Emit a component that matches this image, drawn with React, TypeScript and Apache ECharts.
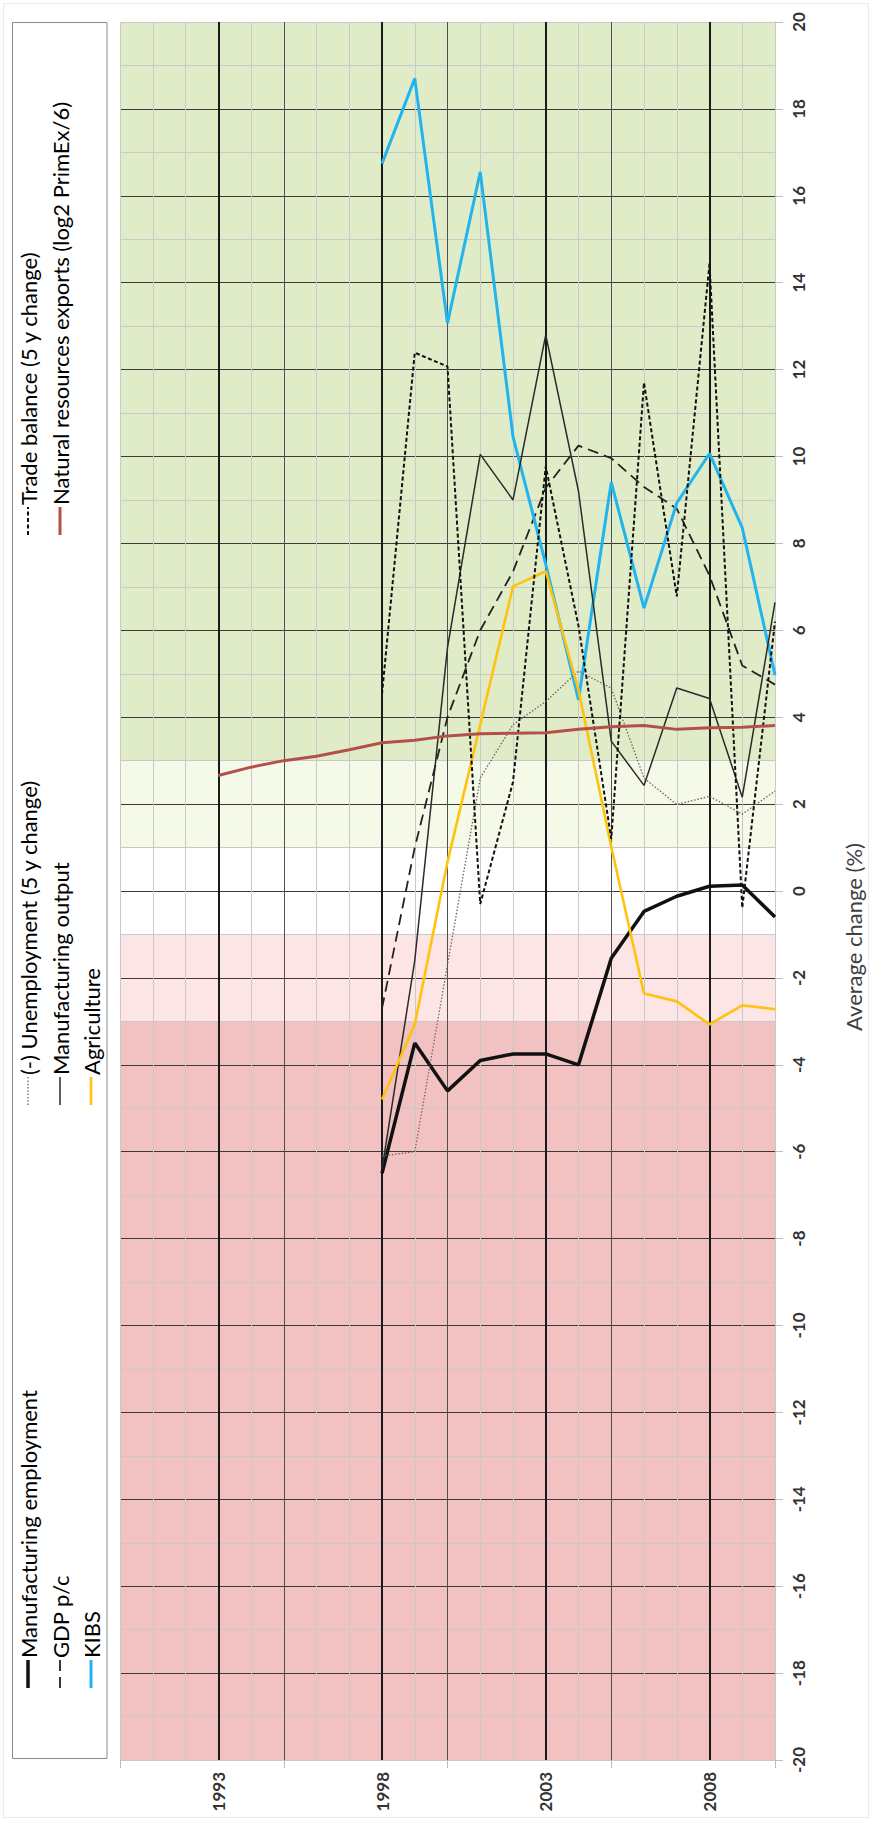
import React, { useEffect, useRef } from "react";
import * as echarts from "echarts";

// ---- data ----
const years = [1998, 1999, 2000, 2001, 2002, 2003, 2004, 2005, 2006, 2007, 2008, 2009, 2010];
const natResYears = [1993, 1994, 1995, 1996, 1997, 1998, 1999, 2000, 2001, 2002, 2003, 2004, 2005, 2006, 2007, 2008, 2009, 2010];

const mfgEmployment = [-6.5, -3.5, -4.6, -3.9, -3.75, -3.75, -4.0, -1.55, -0.47, -0.12, 0.11, 0.14, -0.6];
const gdpPc = [-2.7, 1.0, 4.0, 6.0, 7.35, 9.28, 10.25, 9.96, 9.3, 8.8, 7.26, 5.19, 4.75];
const kibs = [16.74, 18.7, 13.07, 16.55, 10.46, 7.52, 4.4, 9.41, 6.51, 8.93, 10.07, 8.36, 4.97];
const unemployment = [-6.1, -6.0, -1.7, 2.6, 3.83, 4.36, 5.06, 4.67, 2.6, 1.99, 2.18, 1.77, 2.3];
const mfgOutput = [-6.4, -1.6, 5.6, 10.05, 9.0, 12.8, 9.2, 3.45, 2.43, 4.67, 4.43, 2.16, 6.64];
const agriculture = [-4.8, -3.07, 0.67, 3.83, 7.01, 7.36, 4.62, 1.02, -2.36, -2.54, -3.07, -2.63, -2.72];
const tradeBalance = [4.53, 12.39, 12.07, -0.3, 2.51, 9.77, 6.1, 1.2, 11.7, 6.78, 14.44, -0.39, 6.2];
const natResources = [2.66, 2.85, 3.0, 3.1, 3.25, 3.41, 3.47, 3.57, 3.62, 3.63, 3.64, 3.72, 3.78, 3.81, 3.72, 3.76, 3.77, 3.81];

const yearLabels = [1993, 1998, 2003, 2008];
const majorYears = [1993, 1998, 2003, 2008];
const mediumYears = [1995, 2000, 2005];
const bandEdges = [-20, -3, -1, 1, 3, 20];
const bandColors = ["#f2c2c2", "#fde5e5", "#ffffff", "#f5f9e7", "#e0ecc7"];
const axisName = "Average change (%)";

const pairs = (xs: number[], ys: number[]) => xs.map((x, i) => [x, ys[i]]);

type Def = {
  name: string;
  xs: number[];
  ys: number[];
  color: string;
  width: number;
  dash: any;
  group: number;
  col: number;
};

const defs: Def[] = [
  { name: "Manufacturing employment", xs: years, ys: mfgEmployment, color: "#111111", width: 3.5, dash: "solid", group: 0, col: 0 },
  { name: "GDP p/c", xs: years, ys: gdpPc, color: "#222222", width: 1.8, dash: [11, 6], group: 0, col: 1 },
  { name: "KIBS", xs: years, ys: kibs, color: "#22b4ee", width: 3, dash: "solid", group: 0, col: 2 },
  { name: "(-) Unemployment (5 y change)", xs: years, ys: unemployment, color: "#666666", width: 1.3, dash: [1.5, 1.8], group: 1, col: 0 },
  { name: "Manufacturing output", xs: years, ys: mfgOutput, color: "#2a2a2a", width: 1.5, dash: "solid", group: 1, col: 1 },
  { name: "Agriculture", xs: years, ys: agriculture, color: "#ffc20e", width: 2.6, dash: "solid", group: 1, col: 2 },
  { name: "Trade balance (5 y change)", xs: years, ys: tradeBalance, color: "#111111", width: 2, dash: [4, 2.5], group: 2, col: 0 },
  { name: "Natural resources exports (log2 PrimEx/6)", xs: natResYears, ys: natResources, color: "#b4504a", width: 3, dash: "solid", group: 2, col: 1 },
];

export default function App() {
  const ref = useRef<HTMLDivElement>(null);

  useEffect(() => {
    const chart = echarts.init(ref.current!, null, { renderer: "svg" });

    const xSplitColors: string[] = [];
    for (let yr = 1990; yr <= 2010; yr++) {
      if (majorYears.includes(yr)) xSplitColors.push("#1a1a1a");
      else if (mediumYears.includes(yr)) xSplitColors.push("#505050");
      else xSplitColors.push("#c9c9c9");
    }
    const ySplitColors: string[] = [];
    for (let v = -20; v <= 20; v += 2) {
      ySplitColors.push(v === -20 || v === 20 ? "#c9c9c9" : "#3a3a3a");
    }

    const colX = [28, 60, 91];
    const groupBottom = [1688, 1105, 535];
    const markerLen = 28;
    const legendFont = "22px Lato";

    const graphic: any[] = [
      {
        type: "rect",
        shape: { x: 3.5, y: 3.5, width: 865, height: 1814 },
        style: { fill: "none", stroke: "#ececec", lineWidth: 1 },
        silent: true,
      },
      {
        type: "rect",
        shape: { x: 12.5, y: 22.5, width: 94.5, height: 1736 },
        style: { fill: "#ffffff", stroke: "#8a8a8a", lineWidth: 1 },
        silent: true,
      },
      {
        type: "text",
        x: 853,
        y: 937,
        rotation: Math.PI / 2,
        style: {
          text: axisName,
          font: "22px Lato",
          fill: "#404040",
          align: "center",
          verticalAlign: "middle",
        },
        silent: true,
      },
    ];

    defs.forEach((d) => {
      const x = colX[d.col];
      const yb = groupBottom[d.group];
      graphic.push({
        type: "line",
        shape: { x1: x, y1: yb, x2: x, y2: yb - markerLen },
        style: {
          stroke: d.color,
          lineWidth: d.width,
          lineDash: d.dash === "solid" ? null : d.dash,
        },
        silent: true,
      });
      graphic.push({
        type: "text",
        x: x,
        y: yb - markerLen - 2,
        rotation: Math.PI / 2,
        style: {
          text: d.name,
          font: legendFont,
          fill: "#000000",
          align: "left",
          verticalAlign: "middle",
        },
        silent: true,
      });
    });

    const series: any[] = [
      {
        name: "bands",
        type: "line",
        data: [],
        silent: true,
        z: -1,
        markArea: {
          silent: true,
          z: -1,
          data: bandColors.map((c, i) => [
            { yAxis: bandEdges[i], itemStyle: { color: c } },
            { yAxis: bandEdges[i + 1] },
          ]),
        },
      },
      {
        name: "majorYears",
        type: "line",
        data: [],
        silent: true,
        z: 1,
        markLine: {
          silent: true,
          z: 1,
          symbol: ["none", "none"],
          label: { show: false },
          lineStyle: { color: "#1a1a1a", width: 2, type: "solid" },
          data: majorYears.map((v) => ({ xAxis: v })),
        },
      },
      ...defs.map((d) => ({
        name: d.name,
        type: "line",
        data: pairs(d.xs, d.ys),
        showSymbol: false,
        symbol: "none",
        z: 3,
        lineStyle: { color: d.color, width: d.width, type: d.dash },
      })),
    ];

    const labelStyle = {
      fontFamily: "Lato",
      fontWeight: "bold" as const,
      fontSize: 17,
      color: "#333333",
    };

    chart.setOption({
      animation: false,
      grid: { left: 120, right: 97, top: 22, bottom: 61, containLabel: false },
      xAxis: [
        {
          type: "value",
          min: 1990,
          max: 2010,
          interval: 1,
          position: "bottom",
          axisLine: { show: false },
          axisTick: { show: false },
          axisLabel: {
            ...labelStyle,
            rotate: 90,
            margin: 12,
            formatter: (v: number) => (yearLabels.includes(Math.round(v)) ? String(Math.round(v)) : ""),
          },
          splitLine: { show: true, lineStyle: { color: xSplitColors, width: 1 } },
        },
        {
          type: "value",
          min: 1990,
          max: 2010,
          interval: 5,
          position: "bottom",
          axisLine: { show: true, lineStyle: { color: "#c9c9c9", width: 1 } },
          axisTick: { show: true, length: 8, lineStyle: { color: "#bdbdbd" } },
          axisLabel: { show: false },
          splitLine: { show: false },
        },
      ],
      yAxis: {
        type: "value",
        min: -20,
        max: 20,
        interval: 2,
        position: "right",
        axisLine: { show: true, lineStyle: { color: "#c9c9c9", width: 1 } },
        axisTick: { show: true, length: 8, lineStyle: { color: "#bdbdbd" } },
        axisLabel: { ...labelStyle, rotate: 90, margin: 15 },
        splitLine: { show: true, lineStyle: { color: ySplitColors, width: 1 } },
        minorTick: { show: false, splitNumber: 2 },
        minorSplitLine: { show: true, lineStyle: { color: "#c9c9c9", width: 1 } },
      },
      series,
      graphic,
    });

    return () => chart.dispose();
  }, []);

  return (
    <div
      ref={ref}
      style={{ position: "absolute", left: 0, top: 0, width: 872, height: 1821 }}
    />
  );
}
